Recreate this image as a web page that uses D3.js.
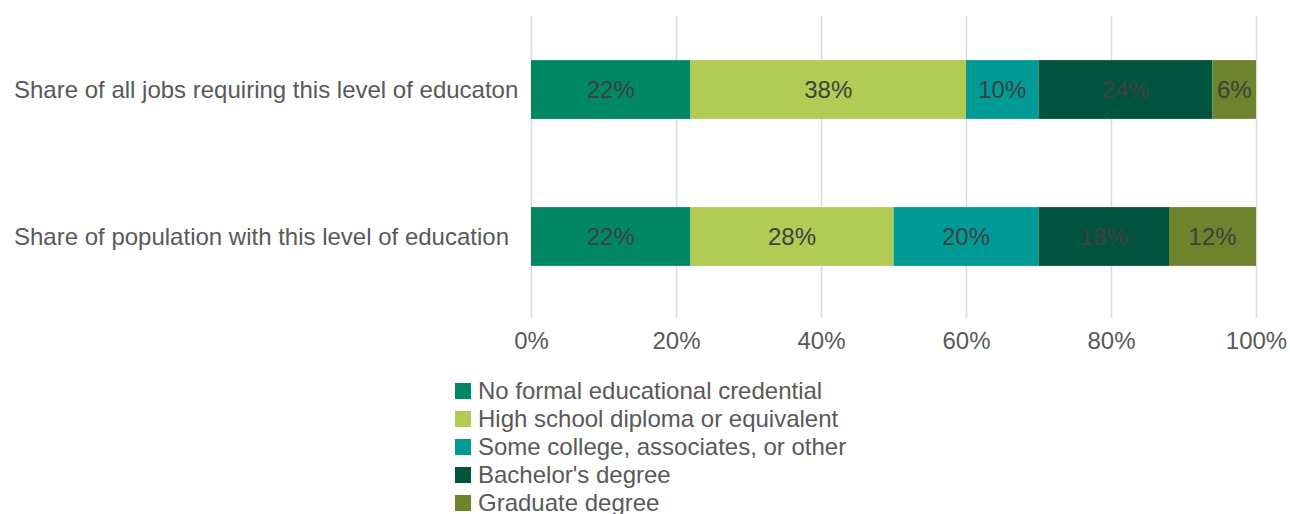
<!DOCTYPE html>
<html>
<head>
<meta charset="utf-8">
<script src="https://cdn.jsdelivr.net/npm/d3@7"></script>
<style>
  html, body { margin: 0; padding: 0; background: #ffffff; }
  svg { display: block; font-family: "Liberation Sans", Arial, sans-serif; }
</style>
</head>
<body>
<svg id="chart" width="1290" height="514"></svg>
<script>
// Rows of the stacked bar chart
const rows = [
  "Share of all jobs requiring this level of educaton",
  "Share of population with this level of education"
];

// Education levels (stack order, left to right)
const levels = [
  "No formal educational credential",
  "High school diploma or equivalent",
  "Some college, associates, or other",
  "Bachelor's degree",
  "Graduate degree"
];

// Percentages per level, one array per level, aligned with `rows`
const noFormal   = [22, 22];
const highSchool = [38, 28];
const someCollege = [10, 20];
const bachelors  = [24, 18];
const graduate   = [6, 12];

const xTicks = [0, 20, 40, 60, 80, 100];

const colors = ["#008766", "#b1cb55", "#009a97", "#00533d", "#6e832b"];

const seriesValues = [noFormal, highSchool, someCollege, bachelors, graduate];
const table = rows.map((r, i) => {
  const o = { row: r };
  levels.forEach((l, j) => { o[l] = seriesValues[j][i]; });
  return o;
});

const FONT = 24;
const svg = d3.select("#chart");
const plotLeft = 531, plotRight = 1256, plotTop = 16, plotBottom = 310;

const x = d3.scaleLinear().domain([0, 100]).range([plotLeft, plotRight]);
const y = d3.scaleBand().domain(rows).range([plotTop, plotBottom])
  .paddingInner(0.6).paddingOuter(0.3);
const color = d3.scaleOrdinal().domain(levels).range(colors);

// Vertical gridlines
svg.append("g")
  .selectAll("line")
  .data(xTicks)
  .join("line")
  .attr("x1", d => Math.round(x(d)) + 0.5)
  .attr("x2", d => Math.round(x(d)) + 0.5)
  .attr("y1", plotTop)
  .attr("y2", 318)
  .attr("stroke", "#dcdcdc")
  .attr("stroke-width", 1.5);

// Stacked segments
const stack = d3.stack().keys(levels)(table);

const layers = svg.append("g")
  .selectAll("g")
  .data(stack)
  .join("g")
  .attr("fill", d => color(d.key));

layers.selectAll("rect")
  .data(d => d)
  .join("rect")
  .attr("x", d => x(d[0]))
  .attr("y", d => y(d.data.row))
  .attr("width", d => x(d[1]) - x(d[0]))
  .attr("height", y.bandwidth());

// Value labels centred in each segment
layers.selectAll("text")
  .data(d => d.map(v => ({ v, key: d.key })))
  .join("text")
  .attr("x", d => (x(d.v[0]) + x(d.v[1])) / 2)
  .attr("y", d => y(d.v.data.row) + y.bandwidth() / 2)
  .attr("dy", "0.35em")
  .attr("text-anchor", "middle")
  .attr("fill", "#404040")
  .attr("font-size", FONT)
  .text(d => d.v.data[d.key] + "%");

// Category labels, left aligned
svg.append("g")
  .selectAll("text")
  .data(rows)
  .join("text")
  .attr("x", 14)
  .attr("y", d => y(d) + y.bandwidth() / 2)
  .attr("dy", "0.35em")
  .attr("fill", "#595959")
  .attr("font-size", FONT)
  .text(d => d);

// X axis tick labels
const xAxis = d3.axisBottom(x)
  .tickValues(xTicks)
  .tickFormat(d => d + "%")
  .tickSize(0)
  .tickPadding(0);

const axisG = svg.append("g")
  .attr("transform", "translate(0,332)")
  .call(xAxis);
axisG.select(".domain").remove();
axisG.selectAll("text")
  .attr("fill", "#595959")
  .attr("font-size", FONT)
  .attr("font-family", "Liberation Sans, Arial, sans-serif");

// Legend
const legend = svg.append("g")
  .selectAll("g")
  .data(levels)
  .join("g")
  .attr("transform", (d, i) => `translate(455, ${383 + i * 28})`);

legend.append("rect")
  .attr("width", 16)
  .attr("height", 16)
  .attr("fill", d => color(d));

legend.append("text")
  .attr("x", 23)
  .attr("y", 8)
  .attr("dy", "0.35em")
  .attr("fill", "#595959")
  .attr("font-size", FONT)
  .text(d => d);
</script>
</body>
</html>
